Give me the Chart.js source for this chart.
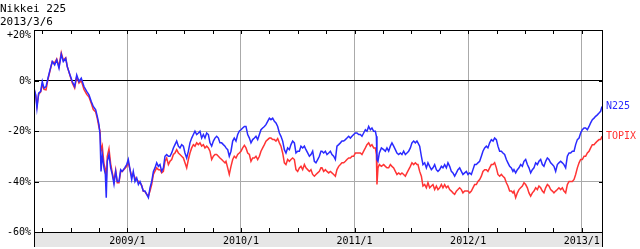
<!DOCTYPE html>
<html><head><meta charset="utf-8">
<script src="https://cdn.jsdelivr.net/npm/chart.js@4.4.1/dist/chart.umd.min.js"></script>
<style>html,body{margin:0;padding:0;background:#fff;}#wrap{width:640px;height:249px;}</style>
</head><body><div id="wrap"><canvas id="c" width="640" height="249"></canvas></div>
<script>
const chartTitle = 'Nikkei 225';
const asOfDate = '2013/3/6';
const seriesNames = ['N225', 'TOPIX'];
const yTickValues = [20, 0, -20, -40, -60];
const yearTicks = [2009, 2010, 2011, 2012, 2013];
const quarterTicks = [2008.25, 2008.5, 2008.75, 2009, 2009.25, 2009.5, 2009.75, 2010, 2010.25, 2010.5, 2010.75, 2011, 2011.25, 2011.5, 2011.75, 2012, 2012.25, 2012.5, 2012.75, 2013];
// dates as decimal years (2008/3/6 .. 2013/3/6)
const dates = [
2008.178,2008.193,2008.204,2008.219,2008.237,2008.251,2008.266,2008.284,2008.301,2008.319,2008.339,2008.360,2008.378,2008.398,2008.418,2008.436,2008.457,2008.471,2008.495,2008.515,2008.536,2008.554,2008.574,2008.594,2008.618,2008.642,2008.662,2008.682,2008.700,2008.721,2008.735,2008.750,2008.759,2008.768,2008.779,2008.794,2008.806,2008.814,2008.823,2008.838,2008.853,2008.867,2008.882,2008.897,2008.911,2008.926,2008.941,2008.955,2008.976,2008.994,2009.008,
2009.038,2009.052,2009.067,2009.082,2009.097,2009.111,2009.126,2009.140,2009.155,2009.170,2009.185,2009.199,2009.214,2009.229,2009.243,2009.258,2009.273,2009.287,2009.302,2009.317,2009.331,2009.346,2009.361,2009.375,2009.390,2009.405,2009.419,2009.434,2009.449,2009.463,2009.478,2009.493,2009.507,2009.522,2009.537,2009.551,2009.566,2009.581,2009.595,2009.610,2009.625,2009.639,2009.654,2009.669,2009.683,2009.698,2009.713,2009.727,2009.742,2009.757,2009.771,2009.786,2009.801,2009.815,2009.830,2009.845,2009.859,
2009.868,2009.883,2009.897,2009.912,2009.927,2009.941,2009.956,2009.971,2009.985,2010.000,2010.015,2010.030,2010.044,2010.059,2010.074,2010.088,2010.103,2010.118,2010.132,2010.147,2010.162,2010.176,2010.191,2010.206,2010.220,2010.235,2010.250,2010.264,2010.279,2010.294,2010.308,2010.323,2010.338,2010.352,2010.367,2010.382,2010.396,2010.411,2010.426,2010.440,2010.455,2010.470,2010.484,2010.499,2010.514,2010.528,2010.543,2010.558,2010.572,2010.587,2010.602,2010.616,2010.631,2010.646,2010.660,2010.675,2010.690,2010.704,
2010.713,2010.728,2010.743,2010.757,2010.772,2010.787,2010.801,2010.816,2010.831,2010.845,2010.860,2010.875,2010.889,2010.904,2010.919,2010.933,2010.948,2010.963,2010.977,2010.992,2011.007,2011.021,2011.036,2011.051,2011.065,2011.080,2011.095,2011.109,2011.124,2011.139,2011.153,2011.168,2011.183,2011.192,2011.197,2011.206,2011.218,2011.236,2011.256,2011.271,2011.285,2011.300,2011.315,2011.329,2011.344,2011.359,2011.373,2011.388,2011.403,2011.417,2011.432,2011.447,2011.461,2011.476,2011.491,2011.505,2011.520,2011.535,2011.549,
2011.558,2011.573,2011.588,2011.602,2011.617,2011.632,2011.646,2011.661,2011.676,2011.690,2011.705,2011.720,2011.734,2011.749,2011.764,2011.778,2011.793,2011.808,2011.822,2011.837,2011.852,2011.866,2011.881,2011.896,2011.910,2011.925,2011.940,2011.954,2011.969,2011.984,2011.998,2012.013,2012.028,2012.042,2012.057,2012.072,2012.086,2012.101,2012.116,2012.130,2012.145,2012.160,2012.174,2012.189,2012.204,2012.219,2012.233,2012.248,2012.262,2012.277,2012.292,2012.306,2012.321,2012.336,2012.350,2012.365,2012.380,2012.394,
2012.403,2012.418,2012.433,2012.447,2012.462,2012.477,2012.491,2012.506,2012.521,2012.535,2012.550,2012.565,2012.579,2012.594,2012.609,2012.623,2012.638,2012.653,2012.667,2012.682,2012.697,2012.711,2012.726,2012.741,2012.755,2012.770,2012.785,2012.799,2012.814,2012.829,2012.843,2012.858,2012.873,2012.888,2012.902,2012.917,2012.932,2012.946,2012.961,2012.976,2012.990,2013.005,2013.020,2013.034,2013.049,2013.064,2013.078,2013.093,2013.108,2013.122,2013.137,2013.152,2013.166,2013.178
];
// % change vs 2008/3/6
const n225 = [
-3.0,-5.7,-11,-5,-4.3,-0.4,-3,-2.4,0.9,4.2,7.5,6.2,8.2,4.9,10.4,7.5,8.8,5.5,2.2,-0.4,-2.4,2.2,-0.4,0.9,-2.4,-4.3,-5.7,-8.3,-10.3,-11.6,-14.2,-17.5,-21.4,-36,-29.3,-34.6,-37.2,-46.4,-32,-29.3,-34.6,-37.2,-41,-36,-40,-40,-35.3,-36,-34.6,-33.3,-31.3,
-39.2,-36,-40,-38.6,-41.2,-40,-41.8,-43.8,-43.8,-45.1,-46.4,-42.5,-40,-36,-34.6,-32.6,-34,-33.3,-36,-34.6,-30,-29.3,-30,-30,-28.7,-26.7,-25.4,-24,-26,-26.7,-25.4,-26,-28.7,-30.7,-28,-24.7,-22.8,-21.4,-20.1,-21.4,-20.8,-20.1,-22.8,-21.4,-22.8,-20.8,-21.4,-24.7,-26,-24,-22.8,-22.1,-22.8,-24.7,-24.7,-25.4,-26,
-26.7,-27.4,-30,-28,-24,-22.8,-24,-21.4,-20.1,-19.5,-18.8,-18.2,-18.2,-21.4,-22.8,-24.7,-23.4,-22.8,-22.1,-23.4,-21.4,-19.5,-18.8,-18.2,-17.5,-16.2,-14.9,-15.5,-14.9,-16.2,-16.8,-18.2,-20.8,-22.1,-24,-27.4,-28.7,-26.7,-27.4,-25.4,-24,-24.7,-28.7,-28,-28,-26,-26.7,-26,-27.4,-28.7,-30,-29.3,-28,-32,-32.6,-31.3,-30,-28,
-28,-28.7,-28,-29.3,-28.7,-28,-29.3,-30,-31.3,-26,-25.4,-24.7,-24,-24,-23.4,-22.8,-22.1,-22.8,-22.1,-21.4,-20.8,-20.8,-21.4,-21.4,-22.1,-20.8,-19.5,-20.1,-18.2,-19.5,-18.8,-20.1,-20.1,-22.1,-31.3,-32,-28.7,-26.7,-27.4,-28,-26.7,-28,-26,-24.7,-26,-27.4,-28.7,-29.3,-28.7,-29.3,-28,-29.3,-28.7,-28,-26.7,-24.7,-24,-24.7,-24,
-24.7,-26,-30,-33.3,-32.6,-34.6,-32.6,-34,-35.3,-34.6,-33.3,-35.3,-36,-35.3,-34,-34.6,-33.3,-34.6,-32.6,-34,-36,-36.6,-37.9,-36.6,-35.3,-34.6,-36,-37.2,-36.6,-36,-37.2,-36.6,-37.2,-35.3,-33.3,-33.3,-32.6,-32,-30,-28,-26.7,-26,-26.7,-24.7,-23.4,-24,-22.8,-23.4,-26,-28,-28,-28.7,-29.3,-31.3,-32.6,-34,-34.6,-36,
-35.3,-36.6,-35.3,-34.6,-33.3,-34,-32,-31.3,-33.3,-34.6,-36.6,-35.3,-34.6,-32.6,-33.3,-32,-31.3,-33.3,-34,-32,-30.7,-31.3,-32.6,-33.3,-34,-36,-33.3,-32.6,-32,-32.6,-33.3,-34.6,-30,-28.7,-28.7,-28,-28,-25.4,-23.4,-22.8,-20.8,-19.5,-18.8,-18.8,-19.5,-18.2,-16.8,-15.5,-14.9,-14.2,-13.6,-12.9,-12.2,-10.3
];
const topix = [
-3.5,-6,-10,-5.5,-4.5,-1.5,-3.5,-3.7,0.5,3.8,7.5,7,8.5,5.5,11,8,9,5.5,2,-1,-3,1.5,-1,0,-3.5,-5.5,-6.5,-9,-11.5,-12.5,-15,-18.5,-20,-28,-26,-33,-35,-40,-30,-27,-33,-36.5,-40,-35.5,-40.5,-40.5,-36,-36,-35,-34,-32.5,
-38,-37.2,-38.5,-39.2,-40,-40.5,-41.5,-43.8,-44,-45.1,-45.8,-43.8,-41.2,-37.2,-35.9,-34.6,-35.3,-35.3,-36.6,-36,-32,-30.7,-33.3,-32,-31.3,-29.3,-28.7,-27.4,-28.7,-29.3,-30,-30.7,-32.6,-34.6,-31.3,-28.7,-26.7,-25.4,-26,-24.7,-25.4,-24.7,-26,-25.4,-26.7,-26,-26.7,-28,-31.3,-30,-29.3,-29.3,-30,-30.7,-31.3,-32,-32.6,
-32,-34.6,-37.2,-34,-31.3,-30,-30.7,-29.3,-28.7,-28,-26.7,-25.7,-26.7,-28.7,-29.3,-32,-30.7,-30.7,-30,-31.3,-30,-28,-26.7,-25.4,-24,-23.4,-22.8,-22.8,-23.4,-23.4,-24,-23,-24.7,-26,-28.7,-32.6,-33.3,-31.3,-32,-31.3,-30.7,-31.3,-35.3,-36,-34.6,-34,-35.3,-33.3,-34.6,-35.3,-36,-35.3,-37.2,-37.9,-37.2,-36.6,-36,-34.6,
-34.6,-36,-35.3,-36,-36.6,-36,-36.6,-37.2,-37.9,-35.3,-34,-33.3,-32.6,-32.6,-32,-31.3,-30.7,-30.7,-30,-30,-28.7,-28.7,-28.7,-28.7,-29.3,-28,-26.7,-25.4,-24.7,-26,-25.4,-26.7,-26.7,-29.3,-41.2,-34.6,-33.3,-34,-33.3,-34,-34.6,-34.6,-33.3,-34,-34.6,-36,-37.2,-36.6,-37.2,-36.6,-37.2,-37.9,-36.6,-35.3,-34,-32.6,-33.3,-32.6,-33.3,
-33.3,-36,-37.9,-41.8,-41.2,-42.5,-40.5,-42.5,-41.8,-41.2,-43.2,-41.8,-43.2,-42.5,-41.2,-42.5,-41.2,-42.5,-41.8,-43.2,-43.8,-44.5,-45.1,-43.8,-43.2,-42.5,-43.2,-44.5,-43.8,-43.8,-43.8,-44.5,-43.8,-42.5,-41.2,-41.2,-40,-39.2,-37.9,-36,-35.3,-35.3,-36,-34.6,-33.3,-33.3,-32.6,-34.6,-37.2,-37.9,-37.2,-37.9,-38.6,-40.5,-41.8,-43.8,-43.8,-44.5,
-43.8,-46.4,-44.5,-43.2,-42.5,-41.8,-40.5,-41.2,-42.5,-44.5,-45.8,-44.5,-43.8,-42.5,-43.2,-41.8,-42.5,-43.8,-44.5,-42.5,-41.2,-41.8,-43.2,-43.8,-44.5,-43.8,-43.2,-42.5,-43.2,-42.5,-43.8,-44.5,-41.2,-40,-40,-40,-39.2,-37.2,-34.6,-32.6,-31.3,-31.3,-30,-30,-28.7,-28,-26.7,-25.4,-25.4,-24.7,-24,-23.4,-23.4,-22.1
];

const BLUE = '#2a2aff';
const RED = '#ff3434';
const MONO = '"DejaVu Sans Mono", "Liberation Mono", monospace';

const toPoints = (vals) => vals.map((v, i) => ({x: dates[i], y: v}));

const decor = {
  id: 'decor',
  beforeDraw(chart) {
    const {ctx, chartArea: a} = chart;
    ctx.save();
    ctx.fillStyle = '#ffffff';
    ctx.fillRect(0, 0, chart.width, chart.height);
    ctx.fillStyle = '#e6e6e6';
    ctx.fillRect(a.left, a.bottom, a.right - a.left, 15);
    ctx.restore();
  },
  afterDraw(chart) {
    const {ctx, chartArea: a, scales} = chart;
    const xs = scales.x, ys = scales.y;
    ctx.save();
    ctx.strokeStyle = '#000';
    ctx.lineWidth = 1;
    // frame
    ctx.strokeRect(a.left + 0.5, a.top + 0.5, a.right - a.left, a.bottom - a.top);
    ctx.beginPath();
    ctx.moveTo(a.left + 0.5, a.bottom); ctx.lineTo(a.left + 0.5, a.bottom + 15);
    ctx.moveTo(a.right + 0.5, a.bottom); ctx.lineTo(a.right + 0.5, a.bottom + 15);
    // quarter ticks
    quarterTicks.forEach(q => {
      const x = Math.round(xs.getPixelForValue(q)) + 0.5;
      ctx.moveTo(x, a.top); ctx.lineTo(x, a.top + 4);
      ctx.moveTo(x, a.bottom - 4); ctx.lineTo(x, a.bottom + 1);
    });
    // y inner ticks
    yTickValues.forEach(v => {
      const y = Math.round(ys.getPixelForValue(v)) + 0.5;
      ctx.moveTo(a.left, y); ctx.lineTo(a.left + 5, y);
      ctx.moveTo(a.right - 3, y); ctx.lineTo(a.right + 1, y);
    });
    ctx.stroke();
    // y labels
    ctx.fillStyle = '#000';
    ctx.font = '10px ' + MONO;
    ctx.textAlign = 'right';
    ctx.textBaseline = 'middle';
    ys.ticks.forEach(t => {
      const v = t.value;
      const label = (v > 0 ? '+' : '') + v + '%';
      let y = ys.getPixelForValue(v);
      if (y < a.top + 5) y = a.top + 5;
      ctx.fillText(label, a.left - 3, y + 0.5);
    });
    // series end labels
    ctx.textAlign = 'left';
    [[0, BLUE], [1, RED]].forEach(([i, col]) => {
      const meta = chart.getDatasetMeta(i);
      const last = meta.data[meta.data.length - 1];
      ctx.fillStyle = col;
      ctx.fillText(seriesNames[i], a.right + 4, last.y);
    });
    // title
    ctx.fillStyle = '#000';
    ctx.font = '11px ' + MONO;
    ctx.textBaseline = 'alphabetic';
    ctx.fillText(chartTitle, 0, 12);
    ctx.fillText(asOfDate, 0, 25);
    ctx.restore();
  }
};

new Chart(document.getElementById('c'), {
  type: 'line',
  data: {
    datasets: [
      {label: seriesNames[0], data: toPoints(n225), borderColor: BLUE, borderWidth: 1.5, pointRadius: 0, tension: 0, fill: false},
      {label: seriesNames[1], data: toPoints(topix), borderColor: RED, borderWidth: 1.5, pointRadius: 0, tension: 0, fill: false}
    ]
  },
  options: {
    responsive: false,
    animation: false,
    devicePixelRatio: 1,
    layout: {padding: {top: 30, right: 38, left: 0, bottom: 0}},
    plugins: {legend: {display: false}, tooltip: {enabled: false}, title: {display: false}},
    scales: {
      x: {
        type: 'linear', min: 2008.178, max: 2013.178,
        afterBuildTicks: (s) => { s.ticks = yearTicks.map(v => ({value: v})); },
        afterFit: (s) => { s.height = 17; },
        ticks: {callback: (v) => v + '/1', color: '#000', font: {family: MONO, size: 10}, padding: 3, maxRotation: 0, autoSkip: false},
        grid: {color: '#aaaaaa', lineWidth: 1, drawTicks: false},
        border: {display: false}
      },
      y: {
        min: -60, max: 20,
        afterBuildTicks: (s) => { s.ticks = yTickValues.map(v => ({value: v})); },
        afterFit: (s) => { s.width = 34; },
        ticks: {display: false},
        grid: {color: (c) => c.tick && c.tick.value === 0 ? '#000000' : '#aaaaaa', lineWidth: 1, drawTicks: false},
        border: {display: false}
      }
    }
  },
  plugins: [decor]
});
</script>
</body></html>
